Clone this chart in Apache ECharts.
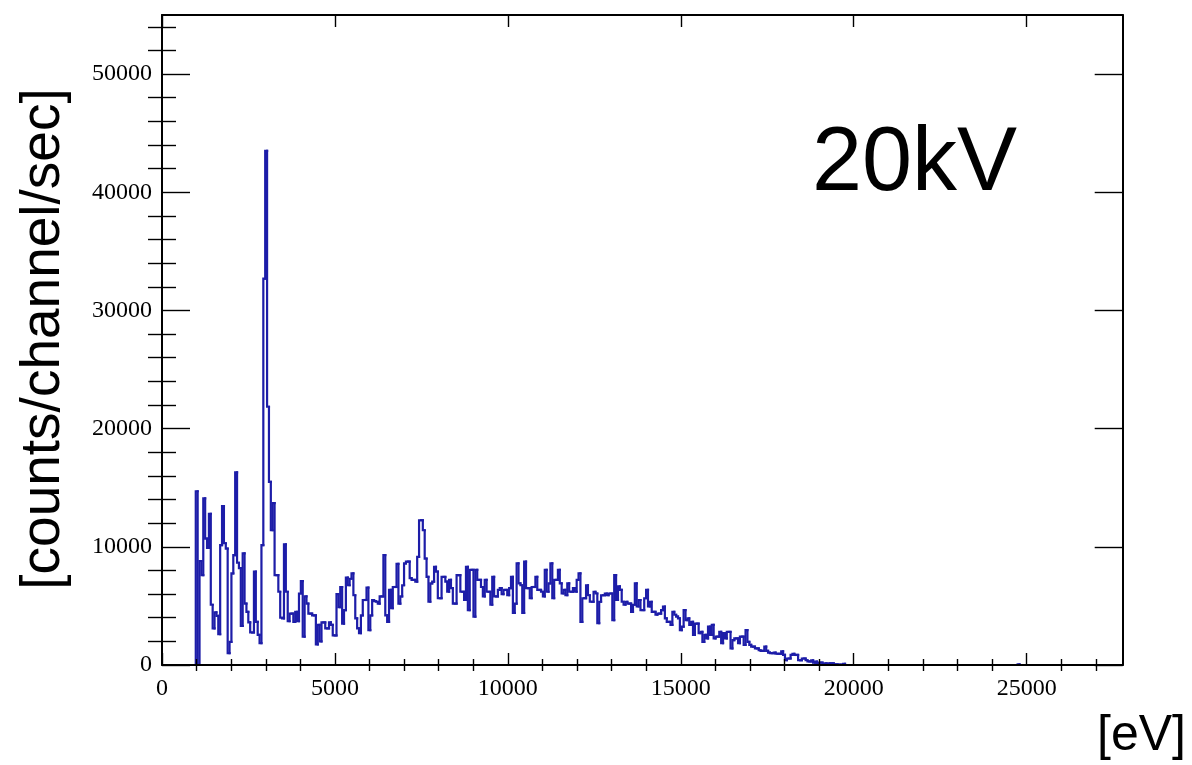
<!DOCTYPE html>
<html>
<head>
<meta charset="utf-8">
<script src="https://cdn.jsdelivr.net/npm/echarts@6/dist/echarts.min.js"></script>
<style>
  html, body { margin: 0; padding: 0; background: #ffffff; }
  #chart { width: 1192px; height: 765px; }
</style>
</head>
<body>
<div id="chart"></div>
<script>
// Spectrum: counts per channel per second, channel width in eV
const binWidth = 54.25;
const firstBin = 18;           // channel index of counts[0]
const counts = [
  14700, 0, 8800, 7600, 14100, 10700, 9900, 12800, 5100, 3100,
  4450, 4150, 2600, 10150, 13450, 10300, 9850, 1000, 1950, 7750,
  9300, 16300, 8650, 8200, 3300, 9450, 5200, 4500, 3600, 2750,
  2750, 7900, 3650, 2550, 1850, 10150, 32700, 43500, 21850, 15500,
  11400, 13700, 7600, 7600, 6200, 4000, 3950, 10200, 6200, 3700,
  4350, 4350, 3650, 4500, 3700, 6050, 7100, 2400, 5800, 5200,
  4350, 4350, 4200, 4200, 1750, 3400, 2000, 3600, 3600, 3100,
  3100, 3600, 3400, 2500, 2500, 6000, 4900, 6600, 3500, 4650,
  7400, 6750, 7300, 7750, 5900, 3950, 3100, 2700, 4200, 5500,
  5500, 6550, 2950, 4200, 5500, 5400, 5350, 5200, 5800, 5800,
  9300, 4200, 3650, 6350, 4800, 6600, 6600, 8550, 5200, 5800,
  6750, 8600, 8750, 8750, 7350, 7200, 7200, 7050, 9150, 12250,
  12250, 11400, 9000, 7450, 5350, 6900, 7050, 8300, 7900, 5650,
  5650, 7450, 7450, 7050, 6200, 7200, 6500, 5200, 5200, 7600,
  7600, 6200, 6200, 5500, 8300, 4650, 8050, 8050, 4100, 8050,
  7200, 7200, 6600, 5800, 7200, 6200, 6200, 5100, 7450, 5800,
  5800, 6350, 6500, 6000, 6350, 6350, 5900, 6500, 7450, 4400,
  5200, 8600, 6900, 6750, 4400, 8750, 6500, 6500, 5650, 6600,
  6600, 7450, 6350, 6350, 6200, 5800, 8050, 6200, 6900, 8600,
  5650, 7200, 7200, 8050, 6900, 6050, 6350, 5900, 6900, 6200,
  6200, 6500, 6200, 7200, 7750, 3650, 5650, 5650, 6750, 5900,
  5350, 5350, 6200, 6050, 3550, 5350, 5900, 5900, 6050, 5900,
  6050, 6050, 3800, 7600, 5500, 6650, 6350, 5350, 5100, 5350,
  5200, 5200, 4500, 5100, 6900, 4950, 5500, 4650, 4650, 5650,
  6350, 4950, 5350, 4500, 4500, 4250, 4350, 4350, 4650, 4950,
  3950, 3650, 3650, 3400, 4500, 4250, 4100, 3950, 2950, 3250,
  4650, 3800, 3950, 3400, 3650, 2550, 3500, 3500, 2700, 2800,
  1950, 2550, 2250, 3250, 2550, 3400, 2250, 2400, 2400, 2800,
  1850, 2700, 2250, 2800, 2800, 1400, 2100, 2250, 2250, 1850,
  2400, 2400, 1700, 2950, 1950, 1700, 1550, 1550, 1400, 1400,
  1250, 1200, 1200, 1550, 1200, 1050, 1000, 1000, 1050, 950,
  950, 950, 1150, 850, 400, 550, 550, 850, 950, 850,
  850, 400, 400, 550, 550, 400, 300, 300, 400, 200,
  280, 100, 200, 200, 80, 140, 80, 140, 140, 150,
  60, 50, 30, 30, 20, 100, 0
];
// isolated channels beyond the main spectrum: [channel, counts]
const sparseCounts = [[456, 60]];

const xMax = 27776;
const yMax = 55000;
const xMajorTicks = [0, 5000, 10000, 15000, 20000, 25000];
const xMinorTicks = [1000, 2000, 3000, 4000, 6000, 7000, 8000, 9000, 11000, 12000, 13000, 14000,
                     16000, 17000, 18000, 19000, 21000, 22000, 23000, 24000, 26000, 27000];
const yMajorTicks = [0, 10000, 20000, 30000, 40000, 50000];
const yMinorTicks = [2000, 4000, 6000, 8000, 12000, 14000, 16000, 18000, 22000, 24000, 26000, 28000,
                     32000, 34000, 36000, 38000, 42000, 44000, 46000, 48000, 52000, 54000];

// One row per channel: [channel, counts, counts of the channel before]
const channelRows = [];
counts.forEach((c, i) => channelRows.push([firstBin + i, c, i === 0 ? 0 : counts[i - 1]]));
sparseCounts.forEach(([ch, c]) => {
  channelRows.push([ch, c, 0]);
  channelRows.push([ch + 1, 0, c]);
});

const histColor = '#1d1da8';

// Draws a channel as a histogram step: rise/fall at its left edge, then its top
function renderChannel(params, api) {
  const ch = api.value(0), c = api.value(1), prev = api.value(2);
  const left = ch * binWidth, right = (ch + 1) * binWidth;
  const p0 = api.coord([left, prev]);
  const p1 = api.coord([left, c]);
  const p2 = api.coord([right, c]);
  return {
    type: 'polyline',
    shape: { points: [p0, p1, p2] },
    style: { stroke: histColor, lineWidth: 2.2, fill: null, lineCap: 'square', lineJoin: 'miter' },
    silent: true
  };
}

const serif = 'Liberation Serif';
const frameLine = { show: true, onZero: false, lineStyle: { color: '#000', width: 2 } };
const tickStyle = { color: '#000', width: 1.4 };
const plain = v => String(v);

function xAxisDef(position, ticks, len, withLine, withLabels) {
  return {
    type: 'value', position, min: 0, max: xMax, z: 5,
    axisLine: withLine ? frameLine : { show: false },
    axisTick: { show: true, inside: true, length: len, customValues: ticks, lineStyle: tickStyle },
    axisLabel: withLabels
      ? { show: true, customValues: xMajorTicks, formatter: plain, margin: 12, color: '#000', fontFamily: serif, fontSize: 24 }
      : { show: false },
    splitLine: { show: false },
    minorTick: { show: false }
  };
}
function yAxisDef(position, ticks, len, withLine, withLabels) {
  return {
    type: 'value', position, min: 0, max: yMax, z: 5,
    axisLine: withLine ? frameLine : { show: false },
    axisTick: { show: true, inside: true, length: len, customValues: ticks, lineStyle: tickStyle },
    axisLabel: withLabels
      ? { show: true, customValues: yMajorTicks, formatter: plain, margin: 10, color: '#000', fontFamily: serif, fontSize: 24 }
      : { show: false },
    splitLine: { show: false },
    minorTick: { show: false }
  };
}

const chart = echarts.init(document.getElementById('chart'), null, { renderer: 'canvas' });
chart.setOption({
  backgroundColor: '#ffffff',
  animation: false,
  grid: { left: 162, right: 69.3, top: 15, bottom: 100, containLabel: false },
  xAxis: [
    xAxisDef('bottom', xMajorTicks, 12, true, true),
    xAxisDef('bottom', xMinorTicks, 6, false, false),
    xAxisDef('top', xMajorTicks, 12, true, false),
    xAxisDef('top', xMinorTicks, 6, false, false)
  ],
  yAxis: [
    yAxisDef('left', yMajorTicks, 28, true, true),
    yAxisDef('left', yMinorTicks, 14, false, false),
    yAxisDef('right', yMajorTicks, 28, true, false),
    yAxisDef('right', yMinorTicks, 14, false, false)
  ],
  series: [{
    type: 'custom',
    xAxisIndex: 0,
    yAxisIndex: 0,
    data: channelRows,
    renderItem: renderChannel,
    encode: { x: 0, y: 1 },
    clip: true,
    silent: true,
    z: 2
  }],
  graphic: [
    {
      type: 'text', x: 812, y: 165,
      style: { text: '20kV', font: '90px "Liberation Sans"', fill: '#000', align: 'left', verticalAlign: 'middle' }
    },
    {
      type: 'text', x: 44, y: 339, rotation: Math.PI / 2,
      style: { text: '[counts/channel/sec]', font: '55px "Liberation Sans"', fill: '#000', align: 'center', verticalAlign: 'middle' }
    },
    {
      type: 'text', x: 1186, y: 736,
      style: { text: '[eV]', font: '50px "Liberation Sans"', fill: '#000', align: 'right', verticalAlign: 'middle' }
    }
  ]
});
</script>
</body>
</html>
